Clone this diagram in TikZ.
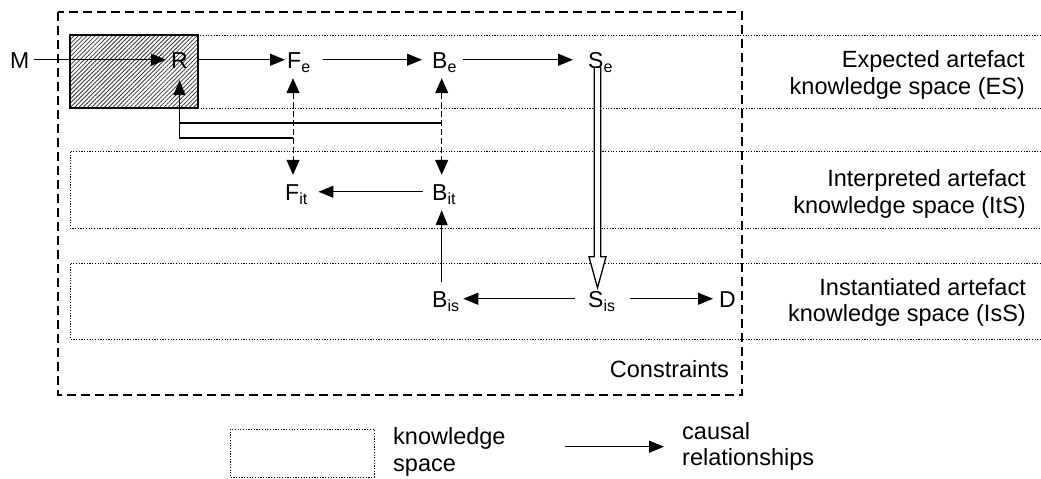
\documentclass[tikz,border=0pt]{standalone}
\usepackage{fontspec}
\setmainfont{Liberation Sans}
\usetikzlibrary{arrows.meta,patterns.meta,calc}
\newcommand{\sbs}[1]{\raisebox{-4pt}{\fontsize{16}{16}\selectfont #1}}
\begin{document}
\begin{tikzpicture}[x=1pt,y=-1pt,
  sym/.style={inner sep=0pt, text height=16.5pt, text depth=0pt, anchor=base west, font=\fontsize{23}{26}\selectfont},
  lab/.style={inner sep=0pt, font=\fontsize{23.5}{26.5}\selectfont},
  arr/.style={line width=1.3pt, -{Triangle[length=15pt,width=12pt]}},
  plain/.style={line width=1.3pt},
  darr/.style={line width=1pt, dash pattern=on 6pt off 3pt, {Triangle[length=15pt,width=13pt]}-{Triangle[length=15pt,width=13pt]}},
  kspace/.style={line width=1pt, dash pattern=on 1.2pt off 1.5pt},
  constr/.style={line width=1.6pt, dash pattern=on 9pt off 5pt},
  hollow/.style={line width=1.3pt, fill=white, line join=miter}
]
\useasboundingbox (0,0) rectangle (1041,479);

% knowledge space bands
\draw[kspace] (1041,35) -- (70,35) -- (70,108) -- (1041,108);
\draw[kspace] (1041,151) -- (70,151) -- (70,228) -- (1041,228);
\draw[kspace] (1041,263) -- (70,263) -- (70,339) -- (1041,339);

% hatched box
\fill[white] (70,35) rectangle (198,108);
\fill[pattern={Lines[angle=45,distance=3pt,line width=0.8pt]}, pattern color=black!80] (70,35) rectangle (198,108);
\draw[line width=1.3pt] (70,35) rectangle (198,108);

% constraints box
\draw[constr] (58,12) rectangle (742,395);

% symbols
\node[sym] (M) at (10,68) {M};
\node[sym] (R) at (171,68) {R};
\node[sym] (Fe) at (287,68) {F\sbs{e}};
\node[sym] (Be) at (432,68) {B\sbs{e}};
\node[sym] (Se) at (588,68) {S\sbs{e}};
\node[sym] (Fit) at (285,200) {F\sbs{it}};
\node[sym] (Bit) at (432,200) {B\sbs{it}};
\node[sym] (Bis) at (432,307) {B\sbs{is}};
\node[sym] (Sis) at (588,307) {S\sbs{is}};
\node[sym] (D) at (719,307) {D};

% horizontal causal arrows
\draw[arr, shorten <=4pt, shorten >=5pt] (M) -- (R);
\draw[arr, shorten <=11pt, shorten >=2pt] (R) -- (Fe);
\draw[arr, shorten <=13pt, shorten >=10pt] (Fe) -- (Be);
\draw[arr, shorten <=6pt, shorten >=15pt] (Be) -- (Se);
\draw[arr, shorten <=9pt, shorten >=11pt] (Bit) -- (Fit);
\draw[arr, shorten <=13pt, shorten >=4pt] (Sis) -- (Bis);
\draw[arr, shorten <=15pt, shorten >=6pt] (Sis) -- (D);
\draw[arr, shorten <=8.5pt, shorten >=10pt] ([xshift=9.7pt]Bis.north west) -- ([xshift=9.7pt]Bit.south west);

% dashed interpretation links
\draw[darr, shorten <=10pt, shorten >=8.5pt] ([xshift=6pt]Fe.south west) -- ([xshift=8pt]Fit.north west);
\draw[darr, shorten <=10pt, shorten >=8.5pt] ([xshift=9.7pt]Be.south west) -- ([xshift=9.7pt]Bit.north west);

% feedback to R
\coordinate (fbF) at (293,138);
\coordinate (fbB) at (441.7,123);
\draw[plain] (fbB) -- (fbB -| R.south);
\draw[arr, shorten >=12pt] (fbF) -- (fbF -| R.south) -- (R.south);

% hollow arrow Se -> Sis
\coordinate (hs) at ([xshift=9.5pt]Se.south west);
\coordinate (ht) at ([xshift=9.5pt, yshift=2.5pt]Sis.north west);
\draw[hollow] ($(hs)+(-3.3,-1)$) -- ($(ht)+(-3.3,-31)$) -- ($(ht)+(-8.5,-31)$) -- (ht)
  -- ($(ht)+(8.5,-31)$) -- ($(ht)+(3.3,-31)$) -- ($(hs)+(3.3,-1)$) -- cycle;

% space labels (base anchor = last line)
\node[lab, align=right, anchor=base east] (esl) at (1025,94.3) {Expected artefact\\knowledge space (ES)};
\node[lab, align=right, anchor=base east] (itl) at (1026,213) {Interpreted artefact\\knowledge space (ItS)};
\node[lab, align=right, anchor=base east] (isl) at (1026,321.7) {Instantiated artefact\\knowledge space (IsS)};
\node[lab, anchor=base east] (con) at (729,377) {Constraints};

% legend
\draw[kspace] (230,429) rectangle (374,477);
\node[lab, align=left, anchor=base west] (lk) at (393,471) {knowledge\\space};
\coordinate (la1) at (565,446.7);
\coordinate (la2) at (664,446.7);
\draw[arr] (la1) -- (la2);
\node[lab, align=left, anchor=base west] (lc) at (682,465.5) {causal\\relationships};
\end{tikzpicture}
\end{document}
